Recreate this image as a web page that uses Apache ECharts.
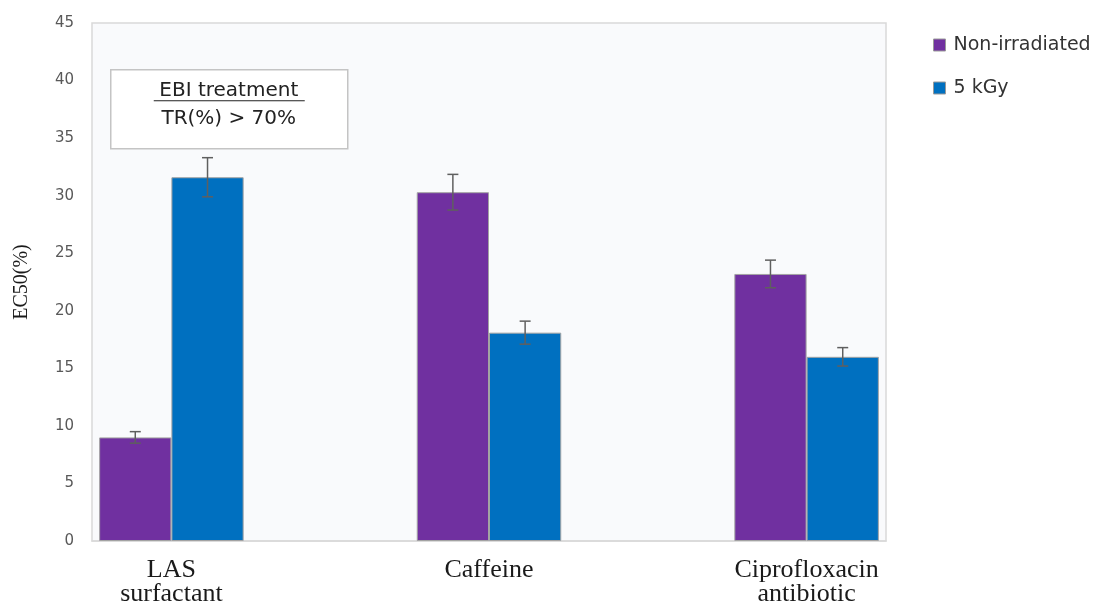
<!DOCTYPE html>
<html>
<head>
<meta charset="utf-8">
<script src="https://cdn.jsdelivr.net/npm/echarts@6/dist/echarts.min.js"></script>
<style>
  html, body { margin: 0; padding: 0; background: #ffffff; }
  #chart { width: 1096px; height: 612px; }
</style>
</head>
<body>
<div id="chart"></div>
<script>
// Pollutant groups; blank slots keep the wide spacing between groups
const categories = ['LAS\nsurfactant', '', 'Caffeine', '', 'Ciprofloxacin\nantibiotic'];
const seriesNames = ['Non-irradiated', '5 kGy'];
const nonIrradiated = [9.0, null, 30.3, null, 23.2];
const nonIrradiatedErr = [0.5, null, 1.55, null, 1.2];
const irradiated5kGy = [31.6, null, 18.1, null, 16.0];
const irradiated5kGyErr = [1.7, null, 1.0, null, 0.8];
const yTicks = { min: 0, max: 45, interval: 5 };

const colors = ['#7030a0', '#0070c0'];
const CATEGORY_GAP = 0.09;

function errorSeries(values, errs, side) {
  const data = values.map((v, i) => [i, v, errs[i]]).filter(d => d[1] != null);
  return {
    type: 'custom',
    name: seriesNames[side] + ' error',
    silent: true,
    z: 5,
    data: data,
    encode: { x: 0, y: 1 },
    renderItem: function (params, api) {
      const idx = api.value(0);
      const val = api.value(1);
      const err = api.value(2);
      const band = api.size([1, 0])[0];
      const barW = band * (1 - CATEGORY_GAP) / 2;
      const center = api.coord([idx, val]);
      const x = center[0] + (side === 0 ? -barW / 2 : barW / 2);
      const yTop = api.coord([idx, val + err])[1];
      const yBot = api.coord([idx, val - err])[1];
      const cap = 5.5;
      const style = { stroke: '#5f5f5f', lineWidth: 1.5 };
      return {
        type: 'group',
        children: [
          { type: 'line', shape: { x1: x, y1: yTop, x2: x, y2: yBot }, style: style },
          { type: 'line', shape: { x1: x - cap, y1: yTop, x2: x + cap, y2: yTop }, style: style },
          { type: 'line', shape: { x1: x - cap, y1: yBot, x2: x + cap, y2: yBot }, style: style }
        ]
      };
    }
  };
}

const chart = echarts.init(document.getElementById('chart'), null, { renderer: 'canvas' });

chart.setOption({
  animation: false,
  backgroundColor: '#ffffff',
  grid: {
    left: 92, top: 23, right: 210, bottom: 71,
    show: true,
    backgroundColor: '#f9fafc',
    borderColor: '#d9d9d9',
    borderWidth: 1.5
  },
  legend: {
    data: seriesNames,
    orient: 'vertical',
    left: 928,
    top: 30,
    itemWidth: 12,
    itemHeight: 12,
    itemGap: 23,
    icon: 'rect',
    textStyle: {
      fontFamily: 'DejaVu Sans',
      fontSize: 19,
      color: '#333333',
      lineHeight: 20,
      padding: [0, 0, 0, 3]
    },
    itemStyle: { borderColor: '#9a9a9a', borderWidth: 1 }
  },
  xAxis: {
    type: 'category',
    data: categories,
    axisLine: { show: true, lineStyle: { color: '#d9d9d9', width: 1.5 } },
    axisTick: { show: false },
    axisLabel: {
      interval: 0,
      margin: 17,
      fontFamily: 'Liberation Serif',
      fontSize: 26,
      lineHeight: 24,
      color: '#1a1a1a'
    }
  },
  yAxis: {
    type: 'value',
    min: yTicks.min,
    max: yTicks.max,
    interval: yTicks.interval,
    name: 'EC50(%)',
    nameLocation: 'middle',
    nameGap: 60,
    nameTextStyle: {
      fontFamily: 'Liberation Serif',
      fontSize: 20,
      color: '#1a1a1a'
    },
    axisLine: { show: false },
    axisTick: { show: false },
    splitLine: { show: false },
    axisLabel: {
      margin: 18,
      fontFamily: 'DejaVu Sans',
      fontSize: 15,
      color: '#595959'
    }
  },
  series: [
    {
      name: seriesNames[0],
      type: 'bar',
      data: nonIrradiated,
      barGap: '0%',
      barCategoryGap: (CATEGORY_GAP * 100) + '%',
      itemStyle: { color: colors[0], borderColor: '#a3a3a3', borderWidth: 1 }
    },
    {
      name: seriesNames[1],
      type: 'bar',
      data: irradiated5kGy,
      barGap: '0%',
      barCategoryGap: (CATEGORY_GAP * 100) + '%',
      itemStyle: { color: colors[1], borderColor: '#a3a3a3', borderWidth: 1 }
    },
    errorSeries(nonIrradiated, nonIrradiatedErr, 0),
    errorSeries(irradiated5kGy, irradiated5kGyErr, 1)
  ],
  graphic: [
    {
      type: 'group',
      left: 110,
      top: 69,
      z: 10,
      children: [
        {
          type: 'rect',
          shape: { x: 0, y: 0, width: 237, height: 79 },
          style: { fill: '#ffffff', stroke: '#c4c4c4', lineWidth: 1.5 }
        },
        {
          type: 'text',
          x: 118, y: 21,
          style: {
            text: 'EBI treatment',
            fontFamily: 'DejaVu Sans',
            fontSize: 20,
            fill: '#222222',
            align: 'center',
            verticalAlign: 'middle'
          }
        },
        {
          type: 'line',
          shape: { x1: 43, y1: 31, x2: 194, y2: 31 },
          style: { stroke: '#222222', lineWidth: 1.2 }
        },
        {
          type: 'text',
          x: 118, y: 49,
          style: {
            text: 'TR(%) > 70%',
            fontFamily: 'DejaVu Sans',
            fontSize: 20,
            fill: '#222222',
            align: 'center',
            verticalAlign: 'middle'
          }
        }
      ]
    }
  ]
});
</script>
</body>
</html>
